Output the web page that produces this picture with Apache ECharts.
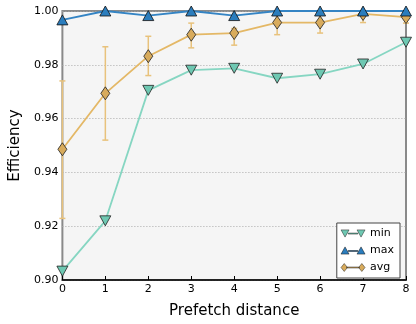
<!DOCTYPE html>
<html>
<head>
<meta charset="utf-8">
<script src="https://cdn.jsdelivr.net/npm/echarts@6/dist/echarts.min.js"></script>
<style>
  html, body { margin: 0; padding: 0; background: #fff; }
  #chart { width: 416px; height: 324px; }
</style>
</head>
<body>
<div id="chart"></div>
<script>
const distances = [0, 1, 2, 3, 4, 5, 6, 7, 8];
const minEff = [0.9033, 0.922, 0.9705, 0.978, 0.9787, 0.975, 0.9765, 0.9803, 0.9884];
const maxEff = [0.9967, 1.0, 0.9983, 1.0, 0.9983, 1.0, 1.0, 1.0, 1.0];
const avgEff = [0.9486, 0.9694, 0.9832, 0.9912, 0.9918, 0.9957, 0.9957, 0.9989, 0.9977];
const avgLow = [0.9229, 0.952, 0.976, 0.9863, 0.9873, 0.9912, 0.9918, 0.9957, 0.9955];
const avgHigh = [0.974, 0.9867, 0.9906, 0.9955, 0.9935, 0.9991, 0.9997, 1.0, 1.0];

const font = "DejaVu Sans";
// legend icons: two markers joined by a line
const triDown = "path://M0,0 L10,0 L5,9 Z M20,0 L30,0 L25,9 Z M9,4 L21,4 L21,5.2 L9,5.2 Z";
const triUp = "path://M0,9 L10,9 L5,0 Z M20,9 L30,9 L25,0 Z M9,4.5 L21,4.5 L21,5.7 L9,5.7 Z";
const diam = "path://M4,0 L8,5 L4,10 L0,5 Z M26,0 L30,5 L26,10 L22,5 Z M7,4.4 L23,4.4 L23,5.6 L7,5.6 Z";

const colMin = "#6ec8b2";
const colMax = "#2b7dbd";
const colAvg = "#d8ab5c";

const chart = echarts.init(document.getElementById("chart"));

const options = {
  animation: false,
  textStyle: { fontFamily: font },
  grid: {
    left: 53,
    right: 10,
    top: 11,
    bottom: 41,
    show: true,
    backgroundColor: "#f5f5f5",
    borderColor: "#8a8a8a",
    borderWidth: 2,
  },
  xAxis: {
    type: "value",
    min: 0,
    max: 8,
    interval: 1,
    name: "Prefetch distance",
    nameLocation: "middle",
    nameGap: 24,
    nameTextStyle: { fontSize: 15, color: "#000", fontFamily: font },
    axisLine: { show: true, onZero: false, lineStyle: { color: "#000", width: 1.5 } },
    axisTick: { show: true, inside: true, length: 4, lineStyle: { color: "#000" } },
    axisLabel: { fontSize: 11, color: "#000", margin: 4 },
    splitLine: { show: false },
  },
  yAxis: {
    type: "value",
    min: 0.9,
    max: 1.0,
    interval: 0.02,
    name: "Efficiency",
    nameLocation: "middle",
    nameGap: 39,
    nameTextStyle: { fontSize: 15, color: "#000", fontFamily: font },
    axisLine: { show: false },
    axisTick: { show: false },
    axisLabel: {
      fontSize: 11,
      color: "#000",
      margin: 4,
      formatter: (v) => v.toFixed(2),
    },
    splitLine: {
      show: true,
      lineStyle: { color: "#aaa", type: [1, 2], width: 1 },
    },
  },
  legend: {
    right: 16,
    bottom: 46,
    orient: "vertical",
    itemWidth: 24,
    itemHeight: 9,
    itemGap: 6,
    padding: [5, 6, 5, 4],
    backgroundColor: "#fff",
    borderColor: "#444",
    borderWidth: 1,
    borderRadius: 0,
    textStyle: { fontSize: 11, color: "#000" },
    data: [
      { name: "min", icon: triDown, itemStyle: { color: colMin, borderColor: "#222", borderWidth: 0.5 } },
      { name: "max", icon: triUp, itemStyle: { color: colMax, borderColor: "#111", borderWidth: 0.5 } },
      { name: "avg", icon: diam, itemStyle: { color: colAvg, borderColor: "#222", borderWidth: 0.5 } },
    ],
  },
  series: [
    {
      name: "avgErr",
      type: "custom",
      z: 1,
      silent: true,
      data: distances.map((d, i) => [d, avgLow[i], avgHigh[i]]),
      renderItem: (params, api) => {
        const lo = api.coord([api.value(0), api.value(1)]);
        const hi = api.coord([api.value(0), api.value(2)]);
        const c = 3;
        const style = { stroke: "#e8c27c", lineWidth: 1.5 };
        return {
          type: "group",
          children: [
            { type: "line", shape: { x1: lo[0], y1: lo[1], x2: hi[0], y2: hi[1] }, style },
            { type: "line", shape: { x1: lo[0] - c, y1: lo[1], x2: lo[0] + c, y2: lo[1] }, style },
            { type: "line", shape: { x1: hi[0] - c, y1: hi[1], x2: hi[0] + c, y2: hi[1] }, style },
          ],
        };
      },
    },
    {
      name: "min",
      type: "line",
      z: 3,
      data: distances.map((d, i) => [d, minEff[i]]),
      symbol: "triangle",
      symbolRotate: 180,
      symbolSize: [11, 10],
      lineStyle: { color: "#86d6c2", width: 1.8 },
      itemStyle: { color: colMin, borderColor: "#222", borderWidth: 0.8 },
    },
    {
      name: "max",
      type: "line",
      z: 4,
      data: distances.map((d, i) => [d, maxEff[i]]),
      symbol: "triangle",
      symbolSize: [11, 10],
      lineStyle: { color: "#3484c4", width: 1.8 },
      itemStyle: { color: colMax, borderColor: "#111", borderWidth: 0.8 },
    },
    {
      name: "avg",
      type: "line",
      z: 3,
      data: distances.map((d, i) => [d, avgEff[i]]),
      symbol: "diamond",
      symbolSize: [9, 13],
      lineStyle: { color: "#e4b866", width: 1.8 },
      itemStyle: { color: colAvg, borderColor: "#222", borderWidth: 0.8 },
    },
  ],
};

chart.setOption(options);
</script>
</body>
</html>
